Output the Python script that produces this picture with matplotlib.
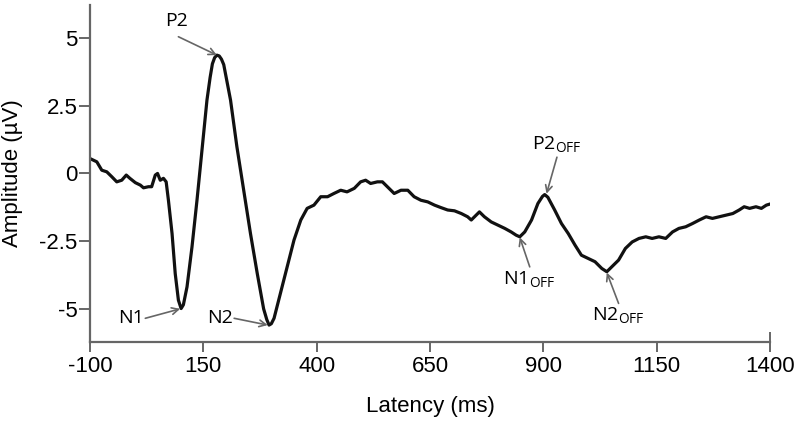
import numpy as np
import matplotlib.pyplot as plt

plt.rcParams['axes.unicode_minus'] = False

# grand average waveform
latency = [-100, -85, -74, -63, -52, -41, -30, -20, -12, 0, 11, 18, 29, 36, 44, 49, 55, 62, 68,
           73, 81, 88, 95, 101, 106, 114, 125, 136, 147, 158, 165, 170, 175, 180, 185, 190, 195,
           210, 224, 239, 254, 269, 283, 290, 295, 300, 306, 320, 335, 350, 365, 379, 394, 409,
           424, 438, 453, 467, 483, 497, 508, 519, 534, 545, 556, 571, 586, 601, 615, 630, 645,
           660, 674, 689, 704, 719, 733, 741, 752, 759, 770, 785, 800, 815, 829, 840, 848, 859,
           874, 888, 898, 903, 910, 925, 940, 955, 970, 984, 999, 1014, 1029, 1040, 1051, 1066,
           1081, 1096, 1111, 1126, 1140, 1155, 1170, 1185, 1199, 1214, 1229, 1244, 1259, 1273,
           1288, 1303, 1318, 1332, 1343, 1355, 1369, 1381, 1392, 1400]
amplitude = [0.55, 0.43, 0.12, 0.06, -0.12, -0.31, -0.25, -0.06, -0.18, -0.34, -0.43, -0.53,
             -0.49, -0.49, -0.06, 0.0, -0.25, -0.18, -0.31, -0.99, -2.22, -3.70, -4.68, -4.99,
             -4.85, -4.19, -2.71, -0.99, 0.86, 2.71, 3.55, 4.05, 4.28, 4.37, 4.34, 4.22, 4.02,
             2.71, 0.99, -0.62, -2.22, -3.70, -5.0, -5.4, -5.6, -5.55, -5.35, -4.43, -3.45,
             -2.46, -1.72, -1.29, -1.17, -0.86, -0.86, -0.74, -0.62, -0.68, -0.55, -0.31, -0.25,
             -0.37, -0.31, -0.31, -0.49, -0.74, -0.62, -0.62, -0.86, -0.99, -1.05, -1.17, -1.26,
             -1.35, -1.38, -1.48, -1.60, -1.72, -1.54, -1.42, -1.60, -1.79, -1.91, -2.03, -2.16,
             -2.28, -2.34, -2.16, -1.72, -1.11, -0.85, -0.78, -0.88, -1.35, -1.85, -2.22, -2.65,
             -3.02, -3.14, -3.26, -3.51, -3.63, -3.45, -3.20, -2.77, -2.53, -2.40, -2.34, -2.40,
             -2.34, -2.40, -2.16, -2.03, -1.97, -1.85, -1.72, -1.60, -1.66, -1.60, -1.54, -1.48,
             -1.35, -1.23, -1.29, -1.23, -1.29, -1.17, -1.13]

x_ticks = [-100, 150, 400, 650, 900, 1150, 1400]
y_ticks = [-5, -2.5, 0, 2.5, 5]
y_tick_labels = ['-5', '-2.5', '0', '2.5', '5']

# peak labels: (text, peak point, text position)
peaks = [
    ('P2', (180, 4.37), (95, 5.05)),
    ('N1', (99, -5.0), (22, -5.35)),
    ('N2', (292, -5.6), (218, -5.35)),
    ('P2$_{\\mathregular{OFF}}$', (907, -0.75), (930, 0.6)),
    ('N1$_{\\mathregular{OFF}}$', (848, -2.36), (870, -3.45)),
    ('N2$_{\\mathregular{OFF}}$', (1040, -3.66), (1066, -4.8)),
]

fig = plt.figure(figsize=(8, 4.21), dpi=100)
ax = fig.add_axes([0.1125, 0.188, 0.85, 0.8])

ax.plot(latency, amplitude, color='#111111', lw=2.3, solid_joinstyle='round')

ax.set_xlim(-100, 1400)
ax.set_ylim(-6.22, 6.22)
ax.set_xticks(x_ticks)
ax.set_xticklabels([str(t) for t in x_ticks])
ax.set_yticks(y_ticks)
ax.set_yticklabels(y_tick_labels)

for s in ['top', 'right']:
    ax.spines[s].set_visible(False)
for s in ['left', 'bottom']:
    ax.spines[s].set_color('#666666')
    ax.spines[s].set_linewidth(1.6)

ax.tick_params(axis='both', direction='out', width=1.4, color='#666666', labelsize=16)
ax.tick_params(axis='y', length=8, pad=1)
ax.tick_params(axis='x', length=7, pad=3)
for lab in ax.get_xticklabels() + ax.get_yticklabels():
    lab.set_fontfamily('Liberation Sans')
ax.xaxis.get_major_ticks()[-1].tick1line.set_marker('|')
ax.xaxis.get_major_ticks()[-1].tick1line.set_markersize(14)

ax.set_xlabel('Latency (ms)', fontsize=16, family='Liberation Sans', labelpad=14)
ax.set_ylabel('Amplitude (µV)', fontsize=16, family='Liberation Sans', labelpad=12)

for txt, pt, tpos in peaks:
    ax.annotate('', xy=pt, xytext=tpos,
                arrowprops=dict(arrowstyle='->', color='#666666', lw=1.2,
                                shrinkA=0, shrinkB=0, mutation_scale=12))
for txt, pt, tpos in peaks:
    if txt.startswith('P2$'):
        ax.text(tpos[0], tpos[1] + 0.1, txt, fontsize=14, family='Open Sans',
                ha='center', va='bottom')
    elif 'OFF' in txt:
        ax.text(tpos[0], tpos[1] - 0.1, txt, fontsize=14, family='Open Sans',
                ha='center', va='top')
    elif txt == 'P2':
        ax.text(tpos[0] - 5, tpos[1] + 0.25, txt, fontsize=14, family='Open Sans',
                ha='center', va='bottom')
    else:
        ax.text(tpos[0] - 3, tpos[1], txt, fontsize=14, family='Open Sans',
                ha='right', va='center')

fig.savefig('out.png', dpi=100)
